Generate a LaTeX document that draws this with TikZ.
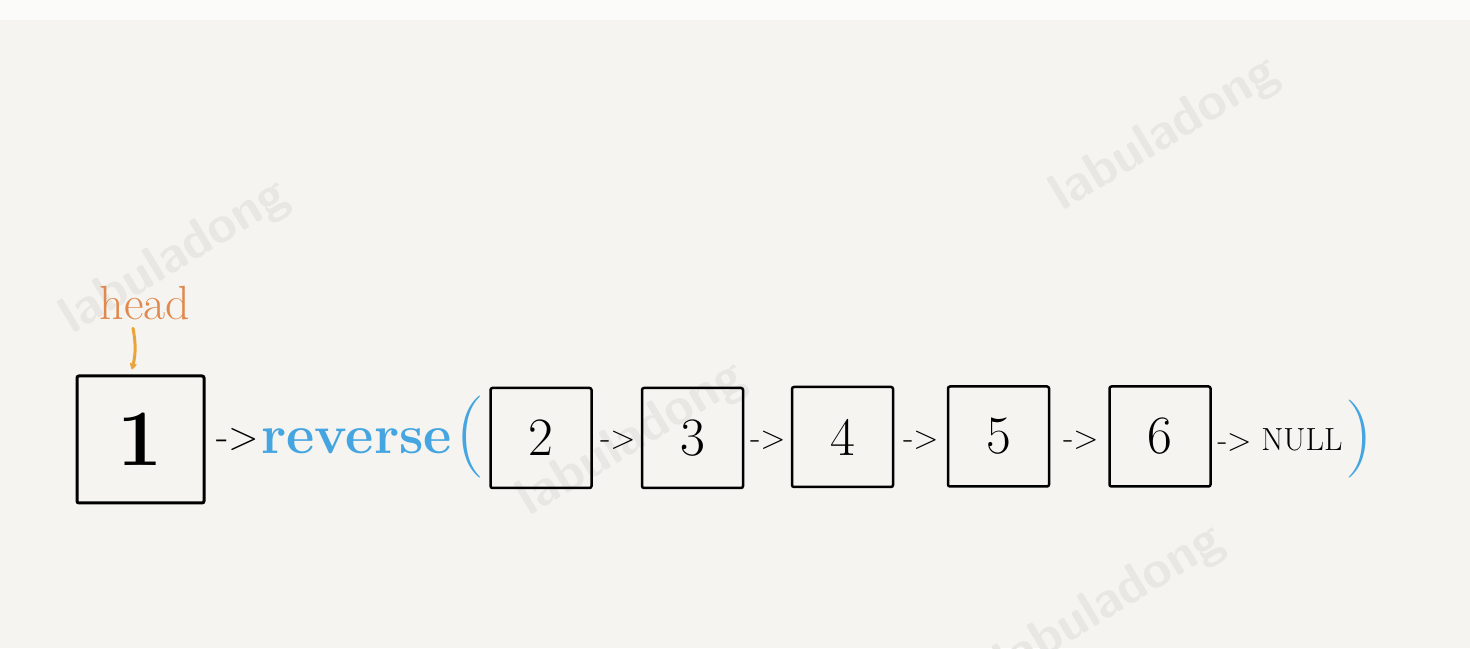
\documentclass[tikz,border=0pt]{standalone}
\usetikzlibrary{arrows.meta}

\definecolor{paper}{HTML}{F5F4F1}
\definecolor{wmgray}{HTML}{E8E7E3}
\definecolor{headorange}{HTML}{E0894C}
\definecolor{pointeryellow}{HTML}{EBA43A}
\definecolor{callblue}{HTML}{45A5E0}

\begin{document}
\begin{tikzpicture}[x=1pt,y=1pt,thick]
\tikzset{
  listnode/.style={draw,line width=2.5pt,rounded corners=2pt,inner sep=0pt,
    minimum width=101pt,minimum height=100pt,font=\fontsize{54}{60}\selectfont},
  nextptr/.style={inner sep=0pt,font=\fontsize{33}{36}\selectfont},
  wmark/.style={wmgray,rotate=31,font=\sffamily\bfseries\fontsize{52}{56}\selectfont},
  headarrow/.style={pointeryellow,line width=3pt,line cap=round,
    -{Stealth[length=8pt,width=9pt,round]}}
}

%Draw Paper
\fill[paper] (0,0) rectangle (1470,648);
\fill[white!60!paper] (0,628) rectangle (1470,648);
\useasboundingbox (0,0) rectangle (1470,648);

%Draw Watermarks
\node[wmark] (wm1) at (175,390) {labuladong};
\node[wmark] (wm2) at (1165,513) {labuladong};
\node[wmark] (wm3) at (632,208) {labuladong};
\node[wmark] (wm4) at (1110,45) {labuladong};

%Draw Head Node
\node[listnode,line width=3pt,minimum width=127pt,minimum height=127pt,
  font=\bfseries\fontsize{80}{86}\selectfont] (n1) at (140.5,208.5) {1};
\node[headorange,inner sep=0pt,font=\fontsize{48}{52}\selectfont] (head) at (145,345) {head};
\draw[headarrow] ([xshift=-12pt,yshift=-8pt]head.south) to[bend left=12]
  ([xshift=-8.5pt,yshift=5pt]n1.north);

%Draw Call
\node[nextptr,font=\fontsize{40}{44}\selectfont] (p1) at (238,208) {->};
\node[callblue,inner sep=0pt,anchor=west,font=\bfseries\fontsize{55}{60}\selectfont]
  (call) at (261,207) {reverse};
\node[callblue,inner sep=0pt,font=\fontsize{82}{86}\selectfont] (lpar) at (470,211) {(};

%Draw Sub List
\node[listnode] (n2) at (541,210) {2};
\node[listnode] (n3) at (692.5,210) {3};
\node[listnode] (n4) at (842.5,211) {4};
\node[listnode] (n5) at (998.5,211.5) {5};
\node[listnode] (n6) at (1160,211.5) {6};

%Draw Next Pointers
\node[nextptr] (p2) at (618,208) {->};
\node[nextptr] (p3) at (768,208) {->};
\node[nextptr] (p4) at (921,208) {->};
\node[nextptr] (p5) at (1081,208) {->};
\node[nextptr,font=\fontsize{32}{36}\selectfont] (tail) at (1280,208) {-> NULL};
\node[callblue,inner sep=0pt,font=\fontsize{78}{82}\selectfont] (rpar) at (1359,209) {)};

\end{tikzpicture}
\end{document}
